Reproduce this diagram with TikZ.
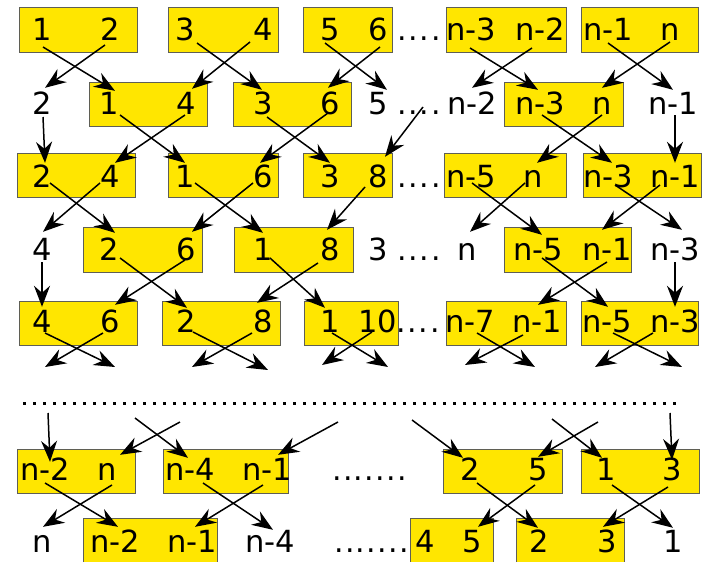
\documentclass[tikz,border=0pt]{standalone}
\usepackage{fontspec}
\setmainfont{DejaVu Sans}
\usetikzlibrary{arrows.meta,calc}
\definecolor{boxfill}{RGB}{255,230,0}
\definecolor{boxedge}{RGB}{95,95,85}
\newcommand\fourdots{.\kern1.8pt.\kern1.8pt.\kern1.8pt.}
\newcommand\sevendots{.\kern1.3pt.\kern1.3pt.\kern1.3pt.\kern1.3pt.\kern1.3pt.\kern1.3pt.}
\begin{document}
\begin{tikzpicture}[x=1pt,y=-1pt,
  box/.style={fill=boxfill,draw=boxedge,line width=1pt},
  num/.style={inner sep=0pt,anchor=base,text height=22pt,text depth=0pt,
    font=\fontsize{30.5}{30}\selectfont},
  gap/.style={inner sep=0pt,anchor=base west,font=\fontsize{30}{30}\selectfont},
  arr/.style={draw=black,line width=1.5pt,
    -{Stealth[length=21pt,width=16pt,inset=7pt]}},
  ]
\useasboundingbox (0,0) rectangle (705,562);
\clip (0,0) rectangle (705,562);

% ---------- boxes ----------
% row 1
\path[box] (19,7) rectangle (137,52);
\path[box] (168,7) rectangle (278,52);
\path[box] (303,7) rectangle (392,52);
\path[box] (446,7) rectangle (566,52);
\path[box] (581,7) rectangle (698,52);
% row 2
\path[box] (89,82) rectangle (207,126);
\path[box] (233,82) rectangle (351,126);
\path[box] (504,82) rectangle (623,126);
% row 3
\path[box] (17,153) rectangle (135,197);
\path[box] (168,153) rectangle (278,197);
\path[box] (303,153) rectangle (392,197);
\path[box] (444,153) rectangle (566,197);
\path[box] (583,153) rectangle (701,197);
% row 4
\path[box] (83,227) rectangle (202,272);
\path[box] (234,227) rectangle (353,272);
\path[box] (504,227) rectangle (631,272);
% row 5
\path[box] (19,301) rectangle (137,345);
\path[box] (162,301) rectangle (280,345);
\path[box] (304,301) rectangle (398,345);
\path[box] (446,301) rectangle (566,345);
\path[box] (581,301) rectangle (698,345);
% row 6
\path[box] (17,449) rectangle (135,493);
\path[box] (163,449) rectangle (288,493);
\path[box] (443,449) rectangle (562,493);
\path[box] (581,449) rectangle (699,493);
% row 7
\path[box] (83,518) rectangle (217,575);
\path[box] (410,518) rectangle (493,575);
\path[box] (516,518) rectangle (624,575);

% ---------- numbers ----------
% row 1
\node[num] (r1a) at (42,40) {1};
\node[num] (r1b) at (110,40) {2};
\node[num] (r1c) at (185,40) {3};
\node[num] (r1d) at (263,40) {4};
\node[num] (r1e) at (330,40) {5};
\node[num] (r1f) at (378,40) {6};
\node[gap] (d1) at (397,40) {\fourdots};
\node[num] (r1g) at (471,40) {n-3};
\node[num] (r1h) at (540,40) {n-2};
\node[num] (r1i) at (608,40) {n-1};
\node[num] (r1j) at (670,40) {n};
% row 2
\node[num] (r2a) at (42,114) {2};
\node[num] (r2b) at (109,114) {1};
\node[num] (r2c) at (186,114) {4};
\node[num] (r2d) at (263,114) {3};
\node[num] (r2e) at (330,114) {6};
\node[num] (r2f) at (378,114) {5};
\node[gap] (d2) at (397,114) {\fourdots};
\node[num] (r2g) at (472,114) {n-2};
\node[num] (r2h) at (540,114) {n-3};
\node[num] (r2i) at (602,114) {n};
\node[num] (r2j) at (673,114) {n-1};
% row 3
\node[num] (r3a) at (42,187) {2};
\node[num] (r3b) at (110,187) {4};
\node[num] (r3c) at (185,187) {1};
\node[num] (r3d) at (263,187) {6};
\node[num] (r3e) at (330,187) {3};
\node[num] (r3f) at (378,187) {8};
\node[gap] (d3) at (397,187) {\fourdots};
\node[num] (r3g) at (471,187) {n-5};
\node[num] (r3h) at (533,187) {n};
\node[num] (r3i) at (608,187) {n-3};
\node[num] (r3j) at (675,187) {n-1};
% row 4
\node[num] (r4a) at (42,260) {4};
\node[num] (r4b) at (109,260) {2};
\node[num] (r4c) at (186,260) {6};
\node[num] (r4d) at (263,260) {1};
\node[num] (r4e) at (330,260) {8};
\node[num] (r4f) at (378,260) {3};
\node[gap] (d4) at (397,260) {\fourdots};
\node[num] (r4g) at (467,260) {n};
\node[num] (r4h) at (538,260) {n-5};
\node[num] (r4i) at (607,260) {n-1};
\node[num] (r4j) at (675,260) {n-3};
% row 5
\node[num] (r5a) at (42,332) {4};
\node[num] (r5b) at (110,332) {6};
\node[num] (r5c) at (186,332) {2};
\node[num] (r5d) at (263,332) {8};
\node[num] (r5e) at (330,332) {1};
\node[num] (r5f) at (378,332) {10};
\node[gap] (d5) at (396,332) {\fourdots};
\node[num] (r5g) at (470,332) {n-7};
\node[num] (r5h) at (537,332) {n-1};
\node[num] (r5i) at (607,332) {n-5};
\node[num] (r5j) at (675,332) {n-3};
% dotted separator
\draw[line width=3pt,dash pattern=on 3pt off 7pt] (23,403) -- (680,403);
% row 6
\node[num] (r6a) at (45,480) {n-2};
\node[num] (r6b) at (107,480) {n};
\node[num] (r6c) at (190,480) {n-4};
\node[num] (r6d) at (267,480) {n-1};
\node[gap] (d6) at (332,480) {\sevendots};
\node[num] (r6e) at (470,480) {2};
\node[num] (r6f) at (538,480) {5};
\node[num] (r6g) at (606,480) {1};
\node[num] (r6h) at (672,480) {3};
% row 7
\node[num] (r7a) at (42,552) {n};
\node[num] (r7b) at (115,552) {n-2};
\node[num] (r7c) at (192,552) {n-1};
\node[num] (r7d) at (270,552) {n-4};
\node[gap] (d7) at (334,552) {\sevendots};
\node[num] (r7e) at (425,552) {4};
\node[num] (r7f) at (472,552) {5};
\node[num] (r7g) at (539,552) {2};
\node[num] (r7h) at (607,552) {3};
\node[num] (r7i) at (673,552) {1};

% free ends of the cut-off arrows
\coordinate (o1) at (115,367);
\coordinate (o2) at (45,367);
\coordinate (o3) at (268,370);
\coordinate (o4) at (192,367);
\coordinate (o5) at (388,367);
\coordinate (o6) at (322,365);
\coordinate (o7) at (535,367);
\coordinate (o8) at (465,365);
\coordinate (o9) at (682,367);
\coordinate (o10) at (595,367);
\coordinate (i1) at (48,413);
\coordinate (i2) at (135,418);
\coordinate (i3) at (180,422);
\coordinate (i4) at (338,422);
\coordinate (i5) at (412,420);
\coordinate (i6) at (552,419);
\coordinate (i7) at (598,422);
\coordinate (i8) at (670,413);

% ---------- arrows ----------
% row 1 -> row 2
\draw[arr] ($(r1a.base)+(1,7)$) -- ($(r2b.north)+(6,-1)$);
\draw[arr] ($(r1b.base)+(-5,5)$) -- ($(r2a.north)+(3,-4)$);
\draw[arr] ($(r1c.base)+(12,3)$) -- ($(r2d.north)+(-1,-2)$);
\draw[arr] ($(r1d.base)+(-13,2)$) -- ($(r2c.north)+(6,-3)$);
\draw[arr] ($(r1e.base)+(-5,3)$) -- ($(r2f.north)+(9,-2)$);
\draw[arr] ($(r1f.base)+(2,7)$) -- ($(r2e.north)+(-2,-4)$);
\draw[arr] ($(r1g.base)+(-1,8)$) -- ($(r2h.north)+(-2,-2)$);
\draw[arr] ($(r1h.base)+(-8,8)$) -- ($(r2g.north)+(0,-4)$);
\draw[arr] ($(r1i.base)+(0,3)$) -- ($(r2j.north)+(0,-2)$);
\draw[arr] ($(r1j.base)+(0,2)$) -- ($(r2i.north)+(0,-4)$);
% row 2 -> row 3
\draw[arr] ($(r2a.base)+(1,3)$) -- ($(r3a.north)+(3,-2)$);
\draw[arr] ($(r2b.base)+(11,1)$) -- ($(r3c.north)+(0,-2)$);
\draw[arr] ($(r2c.base)+(-1,1)$) -- ($(r3b.north)+(5,-2)$);
\draw[arr] ($(r2d.base)+(4,3)$) -- ($(r3e.north)+(0,-2)$);
\draw[arr] ($(r2e.base)+(-2,-1)$) -- ($(r3d.north)+(-3,-2)$);
\draw[arr] ($(d2.base west)+(26,-7)$) -- ($(r3f.north)+(7,-8)$);
\draw[arr] ($(r2h.base)+(2,1)$) -- ($(r3i.north)+(4,-2)$);
\draw[arr] ($(r2i.base)+(0,1)$) -- ($(r3h.north)+(4,-2)$);
\draw[arr] ($(r2j.base)+(2,1)$) -- ($(r3j.north)+(0,-2)$);
% row 3 -> row 4
\draw[arr] ($(r3a.base)+(8,-4)$) -- ($(r4b.north)+(6,-5)$);
\draw[arr] ($(r3b.base)+(-10,-4)$) -- ($(r4a.north)+(1,-6)$);
\draw[arr] ($(r3c.base)+(10,-4)$) -- ($(r4d.north)+(0,-5)$);
\draw[arr] ($(r3d.base)+(-10,-4)$) -- ($(r4c.north)+(6,-6)$);
\draw[arr] ($(r3f.base)+(-13,0)$) -- ($(r4e.north)+(-3,-8)$);
\draw[arr] ($(r3g.base)+(1,-4)$) -- ($(r4h.north)+(4,-3)$);
\draw[arr] ($(r3h.base)+(-8,-4)$) -- ($(r4g.north)+(3,-6)$);
\draw[arr] ($(r3i.base)+(7,-2)$) -- ($(r4j.north)+(7,-8)$);
\draw[arr] ($(r3j.base)+(-15,-2)$) -- ($(r4i.north)+(-5,-8)$);
% row 4 -> row 5
\draw[arr] ($(r4a.base)+(0,2)$) -- ($(r5a.north)+(0,-3)$);
\draw[arr] ($(r4b.base)+(11,-2)$) -- ($(r5c.north)+(1,-2)$);
\draw[arr] ($(r4c.base)+(-1,0)$) -- ($(r5b.north)+(5,-5)$);
\draw[arr] ($(r4d.base)+(7,-2)$) -- ($(r5e.north)+(-5,-2)$);
\draw[arr] ($(r4e.base)+(-12,3)$) -- ($(r5d.north)+(-6,-7)$);
\draw[arr] ($(r4h.base)+(4,-2)$) -- ($(r5i.north)+(1,-3)$);
\draw[arr] ($(r4i.base)+(0,2)$) -- ($(r5h.north)+(1,-5)$);
\draw[arr] ($(r4j.base)+(0,2)$) -- ($(r5j.north)+(0,-3)$);
% row 5 -> onward
\draw[arr] ($(r5a.base)+(3,1)$) -- (o1);
\draw[arr] ($(r5b.base)+(-7,1)$) -- (o2);
\draw[arr] ($(r5c.base)+(7,0)$) -- (o3);
\draw[arr] ($(r5d.base)+(-11,1)$) -- (o4);
\draw[arr] ($(r5e.base)+(2,1)$) -- (o5);
\draw[arr] ($(r5f.base)+(-6,0)$) -- (o6);
\draw[arr] ($(r5g.base)+(7,1)$) -- (o7);
\draw[arr] ($(r5h.base)+(-14,3)$) -- (o8);
\draw[arr] ($(r5i.base)+(6,1)$) -- (o9);
\draw[arr] ($(r5j.base)+(-22,1)$) -- (o10);
% incoming -> row 6
\draw[arr] (i1) -- ($(r6a.north)+(5,4)$);
\draw[arr] (i2) -- ($(r6c.north)+(-2,0)$);
\draw[arr] (i3) -- ($(r6b.north)+(13,-3)$);
\draw[arr] (i4) -- ($(r6d.north)+(11,-3)$);
\draw[arr] (i5) -- ($(r6e.north)+(-7,0)$);
\draw[arr] (i6) -- ($(r6g.north)+(-4,0)$);
\draw[arr] (i7) -- ($(r6f.north)+(0,-1)$);
\draw[arr] (i8) -- ($(r6h.north)+(0,2)$);
% row 6 -> row 7
\draw[arr] ($(r6a.base)+(0,3)$) -- ($(r7b.north)+(3,-3)$);
\draw[arr] ($(r6b.base)+(5,5)$) -- ($(r7a.north)+(1,-3)$);
\draw[arr] ($(r6c.base)+(13,3)$) -- ($(r7d.north)+(3,0)$);
\draw[arr] ($(r6d.base)+(-4,5)$) -- ($(r7c.north)+(3,-3)$);
\draw[arr] ($(r6e.base)+(7,3)$) -- ($(r7g.north)+(-1,-2)$);
\draw[arr] ($(r6f.base)+(-3,5)$) -- ($(r7f.north)+(6,-3)$);
\draw[arr] ($(r6g.base)+(6,5)$) -- ($(r7i.north)+(0,-2)$);
\draw[arr] ($(r6h.base)+(-4,7)$) -- ($(r7h.north)+(-4,-3)$);
\end{tikzpicture}
\end{document}
